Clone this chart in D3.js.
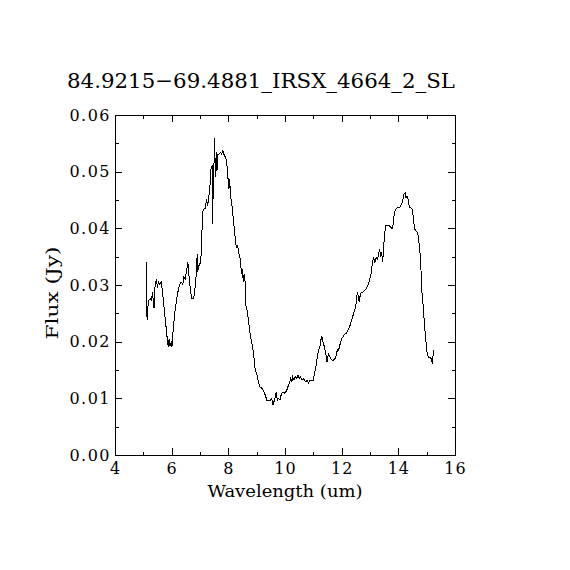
<!DOCTYPE html>
<html>
<head>
<meta charset="utf-8">
<script src="https://cdn.jsdelivr.net/npm/d3@7"></script>
<style>
  body { margin: 0; background: #fff; }
  text { font-family: "DejaVu Serif", serif; fill: #000; }
</style>
</head>
<body>
<div id="chart"></div>
<script>
// spectrum
const wavelength = [
  5.12, 5.13, 5.18, 5.24, 5.29, 5.32, 5.38, 5.41, 5.46, 5.50, 5.53, 5.58, 5.63, 5.67, 5.73, 5.79,
  5.85, 5.88, 5.91, 5.94, 5.99, 6.01, 6.06, 6.12, 6.18, 6.24, 6.29, 6.34, 6.39, 6.43, 6.48, 6.53,
  6.57, 6.61, 6.67, 6.71, 6.76, 6.78, 6.84, 6.88, 6.90, 6.92, 6.96, 7.02, 7.05, 7.09, 7.13, 7.19,
  7.23, 7.27, 7.32, 7.37, 7.39, 7.43, 7.45, 7.47, 7.50, 7.52, 7.54, 7.58, 7.60, 7.62, 7.67, 7.72,
  7.76, 7.81, 7.86, 7.91, 7.95, 7.99, 8.02, 8.05, 8.07, 8.12, 8.16, 8.19, 8.22, 8.26, 8.29, 8.33,
  8.36, 8.40, 8.43, 8.46, 8.49, 8.53, 8.56, 8.60, 8.62, 8.66, 8.71, 8.77, 8.83, 8.89, 8.95, 9.01,
  9.06, 9.12, 9.18, 9.24, 9.30, 9.36, 9.41, 9.47, 9.53, 9.57, 9.61, 9.66, 9.69, 9.73, 9.76, 9.82,
  9.88, 9.94, 9.99, 10.06, 10.12, 10.15, 10.20, 10.24, 10.27, 10.32, 10.36, 10.41, 10.46, 10.50,
  10.55, 10.60, 10.64, 10.69, 10.74, 10.78, 10.83, 10.88, 10.94, 10.99, 11.04, 11.09, 11.13, 11.18,
  11.23, 11.26, 11.30, 11.34, 11.39, 11.44, 11.48, 11.53, 11.58, 11.62, 11.67, 11.74, 11.79, 11.83,
  11.88, 11.90, 11.95, 12.00, 12.05, 12.11, 12.16, 12.22, 12.28, 12.33, 12.38, 12.42, 12.47, 12.52,
  12.55, 12.59, 12.62, 12.66, 12.70, 12.75, 12.81, 12.87, 12.92, 12.98, 13.04, 13.07, 13.12, 13.17,
  13.22, 13.26, 13.31, 13.34, 13.38, 13.41, 13.45, 13.48, 13.52, 13.54, 13.59, 13.64, 13.68, 13.73,
  13.78, 13.82, 13.86, 13.91, 13.95, 14.00, 14.05, 14.08, 14.12, 14.15, 14.20, 14.24, 14.27, 14.31,
  14.34, 14.39, 14.43, 14.48, 14.53, 14.57, 14.62, 14.67, 14.71, 14.76, 14.80, 14.83, 14.88, 14.92,
  14.97, 15.02, 15.06, 15.11, 15.16, 15.20, 15.22, 15.25
];
const flux = [
  0.0340, 0.0239, 0.0273, 0.0276, 0.0273, 0.0287, 0.0259, 0.0296, 0.0311, 0.0294, 0.0306, 0.0301, 0.0305, 0.0290, 0.0261, 0.0232,
  0.0202, 0.0191, 0.0205, 0.0193, 0.0199, 0.0191, 0.0226, 0.0255, 0.0276, 0.0293, 0.0302, 0.0305, 0.0301, 0.0314, 0.0311, 0.0326,
  0.0340, 0.0317, 0.0287, 0.0276, 0.0277, 0.0276, 0.0302, 0.0326, 0.0355, 0.0323, 0.0334, 0.0340, 0.0361, 0.0428, 0.0434, 0.0435,
  0.0452, 0.0439, 0.0460, 0.0484, 0.0507, 0.0510, 0.0408, 0.0500, 0.0519, 0.0560, 0.0490, 0.0534, 0.0502, 0.0531, 0.0531, 0.0534,
  0.0531, 0.0537, 0.0528, 0.0525, 0.0513, 0.0487, 0.0469, 0.0487, 0.0460, 0.0443, 0.0425, 0.0408, 0.0396, 0.0372, 0.0367, 0.0370,
  0.0358, 0.0349, 0.0345, 0.0320, 0.0329, 0.0305, 0.0320, 0.0303, 0.0264, 0.0255, 0.0238, 0.0214, 0.0197, 0.0179, 0.0150, 0.0141,
  0.0129, 0.0120, 0.0118, 0.0114, 0.0106, 0.0097, 0.0097, 0.0096, 0.0100, 0.0088, 0.0094, 0.0103, 0.0111, 0.0097, 0.0100, 0.0097,
  0.0109, 0.0111, 0.0109, 0.0114, 0.0123, 0.0126, 0.0135, 0.0129, 0.0138, 0.0132, 0.0138, 0.0135, 0.0141, 0.0135,
  0.0138, 0.0132, 0.0135, 0.0132, 0.0129, 0.0132, 0.0127, 0.0132, 0.0132, 0.0131, 0.0144, 0.0155, 0.0170, 0.0185,
  0.0191, 0.0202, 0.0209, 0.0200, 0.0191, 0.0179, 0.0164, 0.0179, 0.0173, 0.0170, 0.0167, 0.0168, 0.0173, 0.0182,
  0.0188, 0.0185, 0.0197, 0.0205, 0.0209, 0.0213, 0.0215, 0.0220, 0.0226, 0.0235, 0.0243, 0.0249, 0.0258, 0.0270,
  0.0287, 0.0279, 0.0270, 0.0284, 0.0287, 0.0287, 0.0290, 0.0293, 0.0299, 0.0308, 0.0320, 0.0334, 0.0349, 0.0340,
  0.0349, 0.0346, 0.0355, 0.0364, 0.0349, 0.0358, 0.0340, 0.0370, 0.0387, 0.0405, 0.0405, 0.0406, 0.0405, 0.0402,
  0.0399, 0.0408, 0.0428, 0.0434, 0.0436, 0.0437, 0.0437, 0.0440, 0.0443, 0.0449, 0.0460, 0.0463, 0.0454, 0.0457,
  0.0452, 0.0437, 0.0437, 0.0434, 0.0420, 0.0399, 0.0396, 0.0393, 0.0384, 0.0361, 0.0326, 0.0290, 0.0261, 0.0232,
  0.0202, 0.0179, 0.0173, 0.0172, 0.0170, 0.0161, 0.0173, 0.0186
];
const xMajor = [4, 6, 8, 10, 12, 14, 16];
const xMinor = [5, 7, 9, 11, 13, 15];
const yMajor = [0, 0.01, 0.02, 0.03, 0.04, 0.05, 0.06];
const yMinor = [0.005, 0.015, 0.025, 0.035, 0.045, 0.055];
const title = "84.9215\u221269.4881_IRSX_4664_2_SL";

// set the dimensions and margins of the graph
const margin = {top: 115, right: 115, bottom: 115, left: 115},
    width = 570 - margin.left - margin.right,
    height = 570 - margin.top - margin.bottom;

const svg = d3.select("#chart")
    .append("svg")
    .attr("width", 570)
    .attr("height", 570);

const g = svg.append("g")
    .attr("transform", `translate(${margin.left},${margin.top})`);

const x = d3.scaleLinear().domain([4, 16]).range([0, width]);
const y = d3.scaleLinear().domain([0, 0.06]).range([height, 0]);

const major = 7, minor = 3.5;

function styleAxis(sel) {
    sel.select(".domain").remove();
    sel.selectAll("line").attr("stroke", "#000").attr("stroke-width", 1)
        .attr("shape-rendering", "crispEdges");
    sel.selectAll("text").attr("font-family", "DejaVu Serif").attr("font-size", 16).attr("fill", "#000");
}

// bottom
g.append("g").attr("transform", `translate(0,${height})`)
    .call(d3.axisBottom(x).tickValues(xMajor).tickSize(-major).tickPadding(8).tickFormat(d3.format("d")))
    .call(styleAxis)
    .call(s => s.selectAll("text").attr("letter-spacing", 1));
g.append("g").attr("transform", `translate(0,${height})`)
    .call(d3.axisBottom(x).tickValues(xMinor).tickSize(-minor).tickFormat(""))
    .call(styleAxis);
// top
g.append("g")
    .call(d3.axisTop(x).tickValues(xMajor).tickSize(-major).tickFormat(""))
    .call(styleAxis);
g.append("g")
    .call(d3.axisTop(x).tickValues(xMinor).tickSize(-minor).tickFormat(""))
    .call(styleAxis);
// left
g.append("g")
    .call(d3.axisLeft(y).tickValues(yMajor).tickSize(-major).tickPadding(4).tickFormat(d3.format(".2f")))
    .call(styleAxis)
    .call(s => s.selectAll("text").attr("letter-spacing", 1.5));
g.append("g")
    .call(d3.axisLeft(y).tickValues(yMinor).tickSize(-minor).tickFormat(""))
    .call(styleAxis);
// right
g.append("g").attr("transform", `translate(${width},0)`)
    .call(d3.axisRight(y).tickValues(yMajor).tickSize(-major).tickFormat(""))
    .call(styleAxis);
g.append("g").attr("transform", `translate(${width},0)`)
    .call(d3.axisRight(y).tickValues(yMinor).tickSize(-minor).tickFormat(""))
    .call(styleAxis);

// frame
g.append("rect")
    .attr("x", 0.5).attr("y", 0.5)
    .attr("width", width).attr("height", height)
    .attr("fill", "none").attr("stroke", "#000").attr("stroke-width", 1)
    .attr("shape-rendering", "crispEdges");

// spectrum
const line = d3.line()
    .x((d, i) => x(wavelength[i]))
    .y(d => y(d));

g.append("path")
    .datum(flux)
    .attr("fill", "none")
    .attr("stroke", "#000")
    .attr("stroke-width", 1)
    .attr("shape-rendering", "crispEdges")
    .attr("d", line);

// labels
svg.append("text")
    .attr("x", 261).attr("y", 88)
    .attr("text-anchor", "middle")
    .attr("font-size", 21)
    .attr("textLength", 388)
    .attr("lengthAdjust", "spacingAndGlyphs")
    .text(title);

svg.append("text")
    .attr("x", 285).attr("y", 497)
    .attr("text-anchor", "middle")
    .attr("font-size", 16)
    .attr("textLength", 155)
    .attr("lengthAdjust", "spacingAndGlyphs")
    .text("Wavelength (um)");

svg.append("text")
    .attr("transform", "translate(58,293) rotate(-90)")
    .attr("text-anchor", "middle")
    .attr("font-size", 16)
    .attr("textLength", 93)
    .attr("lengthAdjust", "spacingAndGlyphs")
    .text("Flux (Jy)");
</script>
</body>
</html>
